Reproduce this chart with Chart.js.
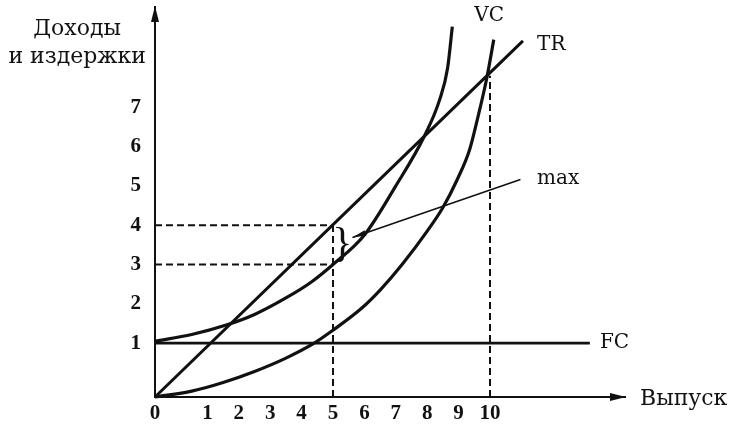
<!DOCTYPE html>
<html>
<head>
<meta charset="utf-8">
<script src="https://cdn.jsdelivr.net/npm/chart.js@4/dist/chart.umd.min.js"></script>
<style>
  html, body { margin: 0; padding: 0; background: #fff; }
  #wrap { width: 733px; height: 428px; }
</style>
</head>
<body>
<div id="wrap"><canvas id="costChart" width="733" height="428"></canvas></div>
<script>
// axis range (the origin of the drawing sits a little before the "1" ticks)
const X_MIN = -0.67, X_MAX = 14.3;
const Y_MIN = -0.37, Y_MAX = 9.55;

const xTickLabels = [0, 1, 2, 3, 4, 5, 6, 7, 8, 9, 10];
const yTickLabels = [1, 2, 3, 4, 5, 6, 7];

// total revenue
const trX = [-0.67, 11.05];
const trY = [-0.37, 8.69];

// upper cost curve (starts at FC)
const tcX = [-0.67, 0.5, 1.6, 2.5, 3.5, 4.3, 5.0, 6.0, 7.0, 7.9, 8.4, 8.65, 8.8];
const tcY = [1.05, 1.22, 1.46, 1.73, 2.15, 2.55, 3.0, 3.75, 5.0, 6.25, 7.2, 8.0, 9.05];

// variable costs
const vcX = [-0.67, 0.5, 1.5, 2.5, 3.5, 4.4, 5.0, 5.9, 6.5, 7.2, 8.0, 8.5, 8.95, 9.35, 9.6, 9.9, 10.12];
const vcY = [-0.37, -0.22, 0.0, 0.28, 0.62, 1.0, 1.33, 1.88, 2.35, 3.0, 3.85, 4.45, 5.15, 5.92, 6.7, 7.75, 8.72];

// fixed costs
const fcX = [-0.67, 13.18];
const fcY = [1, 1];

// dashed guides
const guide4X = [-0.67, 5];
const guide4Y = [4, 4];
const guide3X = [-0.67, 5];
const guide3Y = [3, 3];
const guide5X = [5, 5];
const guide5Y = [-0.37, 4];
const guide10X = [10, 10];
const guide10Y = [-0.37, 7.8];

// pointer from "max" to the brace
const maxX = [5.62, 10.97];
const maxY = [3.69, 5.16];

const INK = '#111';
const SERIF = '"DejaVu Serif", "Liberation Serif", serif';
const TICK_FONT = '"Liberation Serif", serif';

function pts(xs, ys) {
  return xs.map((x, i) => ({ x, y: ys[i] }));
}

function curve(xs, ys, width) {
  return {
    data: pts(xs, ys),
    borderColor: INK,
    borderWidth: width,
    pointRadius: 0,
    cubicInterpolationMode: 'monotone',
    fill: false,
    clip: false
  };
}

function dashed(xs, ys) {
  return {
    data: pts(xs, ys),
    borderColor: INK,
    borderWidth: 2,
    borderDash: [7, 4],
    pointRadius: 0,
    fill: false,
    clip: false
  };
}

// text, axis arrows, brace and the pointer head
const decorPlugin = {
  id: 'decor',
  afterDatasetsDraw(chart) {
    const { ctx, chartArea, scales: { x, y } } = chart;
    ctx.save();
    ctx.fillStyle = INK;
    ctx.strokeStyle = INK;

    // arrowheads on axes
    ctx.beginPath();
    ctx.moveTo(chartArea.left, chartArea.top - 1);
    ctx.lineTo(chartArea.left - 4, chartArea.top + 15);
    ctx.lineTo(chartArea.left + 4, chartArea.top + 15);
    ctx.closePath();
    ctx.fill();
    ctx.beginPath();
    ctx.moveTo(chartArea.right + 1, chartArea.bottom);
    ctx.lineTo(chartArea.right - 15, chartArea.bottom - 4);
    ctx.lineTo(chartArea.right - 15, chartArea.bottom + 4);
    ctx.closePath();
    ctx.fill();

    // head of the "max" pointer
    const hx = x.getPixelForValue(maxX[0]), hy = y.getPixelForValue(maxY[0]);
    const ang = Math.atan2(y.getPixelForValue(maxY[1]) - hy, x.getPixelForValue(maxX[1]) - hx);
    ctx.beginPath();
    ctx.moveTo(hx, hy);
    ctx.lineTo(hx + 14 * Math.cos(ang - 0.2), hy + 14 * Math.sin(ang - 0.2));
    ctx.lineTo(hx + 14 * Math.cos(ang + 0.2), hy + 14 * Math.sin(ang + 0.2));
    ctx.closePath();
    ctx.fill();

    // brace between 3 and 4
    ctx.font = '42px "Liberation Serif", serif';
    ctx.textAlign = 'center';
    ctx.textBaseline = 'middle';
    ctx.fillText('}', x.getPixelForValue(5.3), y.getPixelForValue(3.5));

    // curve labels
    ctx.font = '20px ' + SERIF;
    ctx.textAlign = 'left';
    ctx.fillText('VC', x.getPixelForValue(9.5), 16);
    ctx.fillText('TR', x.getPixelForValue(11.5), 45);
    ctx.fillText('max', x.getPixelForValue(11.5), y.getPixelForValue(5.19));
    ctx.fillText('FC', x.getPixelForValue(13.5), y.getPixelForValue(1));

    ctx.font = '22px ' + SERIF;
    ctx.fillText('Выпуск', chartArea.right + 15, chartArea.bottom + 2);

    // y axis title
    ctx.textAlign = 'right';
    ctx.fillText('Доходы', 121, 29);
    ctx.fillText('и издержки', 146, 57);
    ctx.restore();
  }
};

new Chart(document.getElementById('costChart'), {
  type: 'line',
  data: {
    datasets: [
      curve(trX, trY, 3),
      curve(tcX, tcY, 3.2),
      curve(vcX, vcY, 3.2),
      curve(fcX, fcY, 2.6),
      curve(maxX, maxY, 1.6),
      dashed(guide4X, guide4Y),
      dashed(guide3X, guide3Y),
      dashed(guide5X, guide5Y),
      dashed(guide10X, guide10Y)
    ]
  },
  options: {
    responsive: false,
    animation: false,
    layout: { padding: { top: 7, right: 108, left: 0, bottom: 0 } },
    plugins: {
      legend: { display: false },
      tooltip: { enabled: false }
    },
    scales: {
      x: {
        type: 'linear',
        min: X_MIN,
        max: X_MAX,
        grid: { display: false, drawTicks: false },
        border: { display: true, color: INK, width: 2 },
        afterBuildTicks: (s) => { s.ticks = xTickLabels.map(v => ({ value: v === 0 ? X_MIN : v })); },
        afterFit: (s) => { s.height = 31; s.paddingLeft = 0; s.paddingRight = 0; },
        ticks: {
          color: INK,
          padding: 4,
          maxRotation: 0,
          autoSkip: false,
          font: { family: TICK_FONT, size: 21, weight: 'bold' },
          callback: (v, i) => String(xTickLabels[i])
        }
      },
      y: {
        type: 'linear',
        min: Y_MIN,
        max: Y_MAX,
        grid: { display: false, drawTicks: false },
        border: { display: true, color: INK, width: 2 },
        afterBuildTicks: (s) => { s.ticks = yTickLabels.map(v => ({ value: v })); },
        afterFit: (s) => { s.width = 155; s.paddingTop = 0; s.paddingBottom = 0; },
        ticks: {
          color: INK,
          padding: 14,
          autoSkip: false,
          font: { family: TICK_FONT, size: 21, weight: 'bold' },
          callback: (v, i) => String(yTickLabels[i])
        }
      }
    }
  },
  plugins: [decorPlugin]
});
</script>
</body>
</html>
